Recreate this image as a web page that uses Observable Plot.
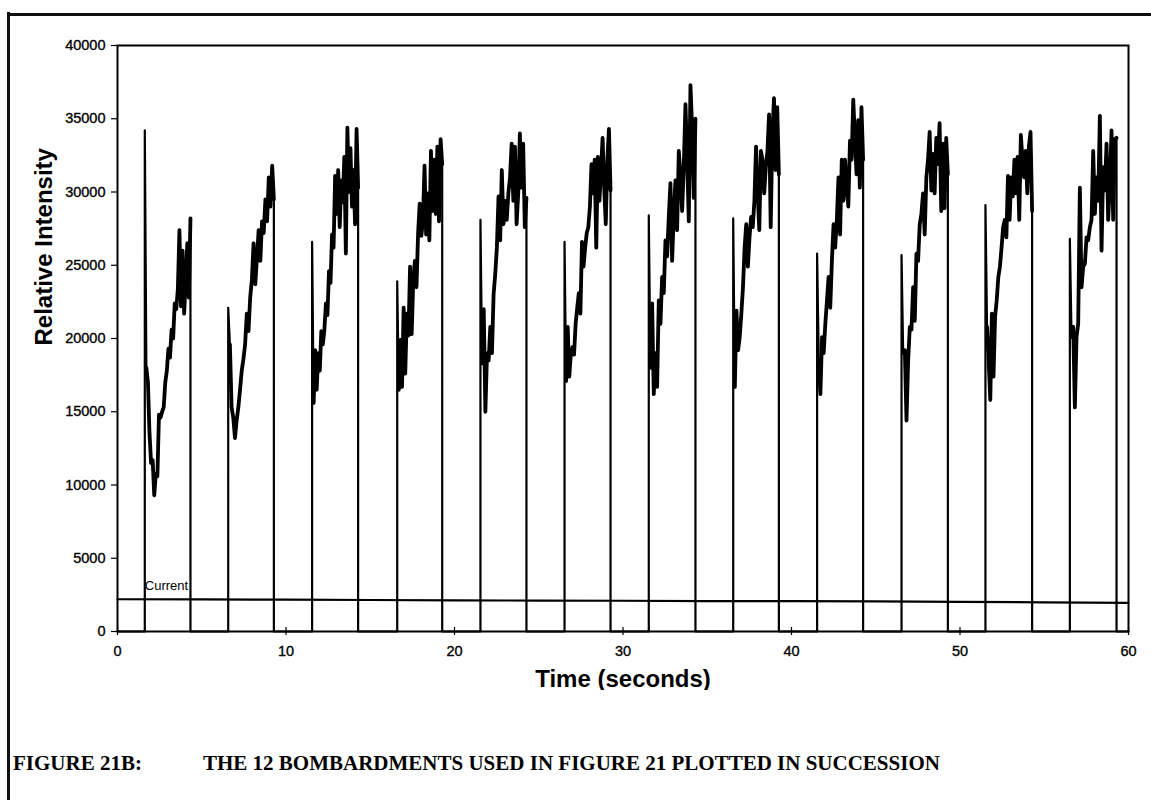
<!DOCTYPE html>
<html>
<head>
<meta charset="utf-8">
<script src="https://cdn.jsdelivr.net/npm/d3@7"></script>
<script src="https://cdn.jsdelivr.net/npm/@observablehq/plot@0.6"></script>
<style>
  html, body { margin: 0; padding: 0; background: #fff; overflow: hidden; width: 1151px; height: 800px; }
  #chart { position: absolute; left: 0; top: 0; }
  .frameL { position: absolute; left: 7px; top: 12px; width: 2.5px; height: 800px; background: #111; }
  .frameT { position: absolute; left: 7px; top: 13px; width: 1150px; height: 2.5px; background: #111; }
  .cap { position: absolute; top: 753px; font-family: "Liberation Serif", "Times New Roman", serif; font-weight: bold; font-size: 21px; line-height: 21px; color: #000; white-space: nowrap; }
</style>
</head>
<body>
<div id="chart"></div>
<div class="frameL"></div>
<div class="frameT"></div>
<div class="cap" style="left:13px">FIGURE 21B:</div>
<div class="cap" style="left:203px">THE 12 BOMBARDMENTS USED IN FIGURE 21 PLOTTED IN SUCCESSION</div>
<script>
// ---- data ----
const xTicks = [0, 10, 20, 30, 40, 50, 60];
const yTicks = [0, 5000, 10000, 15000, 20000, 25000, 30000, 35000, 40000];

const burstStarts = [1.62, 6.57, 11.55, 16.60, 21.54, 26.53, 31.53, 36.54, 41.52, 46.53, 51.51, 56.52];
const burstEnds   = [4.33, 9.28, 14.28, 19.27, 24.27, 29.26, 34.30, 39.25, 44.25, 49.28, 54.28, 59.29];

const burst01 = [34200, 18000, 17000, 13500, 11500, 11700, 9300, 10800, 10600, 14800, 14600, 15000, 15300, 17000, 17800, 19300, 18700, 20600, 20000, 22400, 22000, 23400, 27400, 22200, 26000, 21700, 24000, 26500, 22800, 28200];
const burst02 = [22100, 19600, 15300, 14600, 13200, 14400, 15300, 16500, 17800, 18600, 19600, 21700, 20500, 22800, 24000, 26500, 23700, 25500, 27400, 25300, 28000, 27200, 29500, 28000, 31000, 29000, 31800, 29500];
const burst03 = [26600, 15600, 19200, 16500, 19000, 17800, 20500, 19600, 20600, 22400, 21600, 24600, 23800, 27100, 26200, 31100, 28500, 31500, 27600, 30800, 29300, 32400, 25800, 34400, 30000, 33000, 29000, 31500, 27800, 34300, 30300];
const burst04 = [23900, 16500, 19900, 16700, 22100, 17600, 21700, 20200, 24900, 20300, 24000, 25300, 23500, 27200, 29200, 27000, 28000, 31800, 27100, 29900, 26700, 32800, 28700, 32200, 28500, 33100, 28000, 33600, 31900];
const burst05 = [28100, 18300, 22000, 15000, 19000, 18500, 20800, 19000, 23000, 24400, 26200, 29700, 26700, 31500, 27800, 29400, 28100, 29900, 31000, 33300, 29400, 33100, 27800, 29900, 34000, 30300, 33300, 27600, 29600];
const burst06 = [26600, 17100, 20800, 17400, 19000, 19400, 18900, 21000, 22100, 23100, 21700, 26600, 24900, 26200, 27200, 27600, 29000, 31900, 29900, 32200, 26200, 32400, 29400, 31500, 33700, 30300, 27800, 32200, 34300, 30100];
const burst07 = [28400, 18000, 22400, 16200, 19000, 16700, 22600, 21000, 24200, 23100, 26700, 25600, 28300, 30600, 25300, 28500, 30800, 27400, 32800, 31200, 28700, 31700, 36000, 32400, 28000, 37300, 34400, 29600, 35000];
const burst08 = [28200, 16700, 21900, 19200, 20100, 21700, 23500, 26200, 27800, 24900, 26900, 28300, 27600, 29400, 33100, 29900, 27400, 32800, 32200, 29900, 31700, 32800, 35300, 27600, 33900, 36400, 31500, 35800, 31200];
const burst09 = [25800, 18500, 16200, 20100, 19000, 21000, 22600, 24200, 22100, 25300, 27800, 26200, 28100, 31000, 27100, 32200, 29400, 32200, 30300, 29000, 33500, 32200, 36300, 33700, 31200, 34900, 30300, 35800, 32200];
const burst10 = [25700, 19000, 19200, 14400, 18500, 20800, 20600, 23500, 21200, 25800, 25300, 27800, 28500, 29900, 27100, 31000, 32200, 34100, 30100, 32600, 29900, 33700, 31900, 34700, 28700, 33300, 28900, 33700, 31200];
const burst11 = [29100, 20800, 18500, 15800, 21700, 17400, 21500, 22600, 24200, 24900, 26200, 27600, 28100, 26900, 31100, 28100, 31000, 29700, 32200, 29900, 32400, 28100, 33900, 32200, 31000, 32800, 29900, 33100, 34100, 28700];
const burst12 = [26800, 20100, 20800, 15300, 20100, 21000, 30300, 23500, 24900, 25100, 26900, 26700, 27600, 28100, 32800, 28500, 31000, 29400, 35200, 26000, 31700, 30100, 33300, 28100, 30600, 34200, 28100, 33600, 33700];

const currentTimes  = [0, 5, 10, 15, 20, 25, 30, 35, 40, 45, 50, 55, 60];
const currentValues = [2200, 2190, 2170, 2150, 2130, 2110, 2100, 2080, 2070, 2050, 2020, 1990, 1950];
const currentLabel = "Current";

// ---- build tables ----
const bursts = [burst01, burst02, burst03, burst04, burst05, burst06, burst07, burst08, burst09, burst10, burst11, burst12];
const signal = [{t: 0, v: 0}];
const bodies = [];
bursts.forEach((vals, k) => {
  const s = burstStarts[k], e = burstEnds[k], step = (e - s) / (vals.length - 1);
  signal.push({t: s, v: 0});
  vals.forEach((v, i) => {
    signal.push({t: s + i * step, v});
    if (i > 0) bodies.push({k, t: s + i * step, v});
  });
  signal.push({t: e, v: 0});
});
signal.push({t: 60, v: 0});
const current = currentTimes.map((t, i) => ({t, v: currentValues[i]}));
const fmt = d3.format("d");

const chart = Plot.plot({
  width: 1151,
  height: 690,
  marginLeft: 117,
  marginRight: 23,
  marginTop: 45,
  marginBottom: 59,
  style: {fontFamily: "'Liberation Sans', Arial, sans-serif", fontSize: "14px", color: "#000", background: "transparent"},
  x: {domain: [0, 60]},
  y: {domain: [0, 40000]},
  marks: [
    Plot.axisY({ticks: yTicks, tickSize: 6, tickFormat: () => "", label: null, strokeWidth: 1.2, stroke: "#000"}),
    Plot.axisX({ticks: xTicks, tickSize: 8, dy: -4, tickFormat: () => "", label: null, strokeWidth: 1.2, stroke: "#000"}),
    Plot.text(yTicks, {y: d => d, text: d => fmt(d), frameAnchor: "left", dx: -12, textAnchor: "end", fontSize: 14.5, fill: "#000", stroke: "#000", strokeWidth: 0.35}),
    Plot.text(xTicks, {x: d => d, text: d => fmt(d), frameAnchor: "bottom", dy: 24, fontSize: 14.5, fill: "#000", stroke: "#000", strokeWidth: 0.35}),
    Plot.line(current, {x: "t", y: "v", stroke: "#000", strokeWidth: 2.2}),
    Plot.line(signal, {x: "t", y: "v", stroke: "#000", strokeWidth: 2.2}),
    Plot.line(bodies, {x: "t", y: "v", z: "k", stroke: "#000", strokeWidth: 3.8}),
    Plot.text([currentLabel], {x: () => burstStarts[0], y: () => currentValues[0], text: d => d, textAnchor: "start", dy: -13, fontSize: 13, fill: "#000"}),
    Plot.frame({stroke: "#000", strokeWidth: 2}),
    Plot.text(["Relative Intensity"], {frameAnchor: "left", text: d => d, rotate: -90, dx: -73, dy: 7, fontSize: 24, fontWeight: "bold", fill: "#000"}),
    Plot.text(["Time (seconds)"], {frameAnchor: "bottom", text: d => d, dy: 55, fontSize: 24, fontWeight: "bold", fill: "#000"})
  ]
});
document.getElementById("chart").appendChild(chart);
</script>
</body>
</html>
